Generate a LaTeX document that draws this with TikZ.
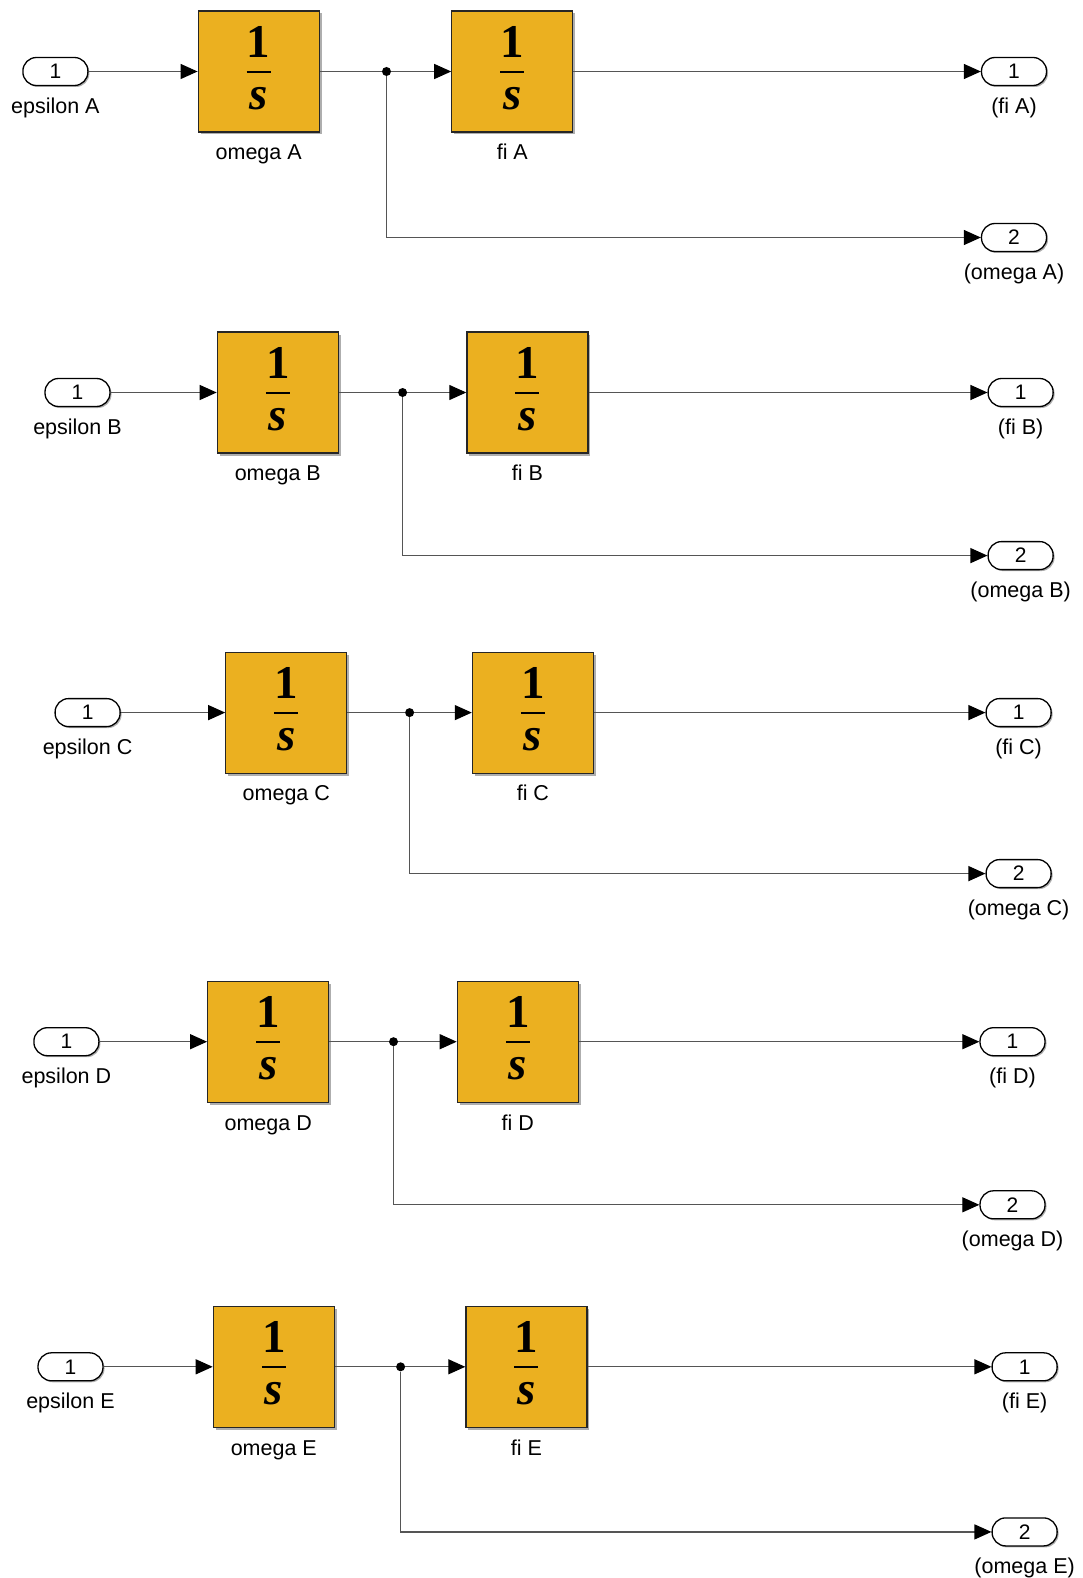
\documentclass[tikz,border=0pt]{standalone}
\usepackage{fontspec}
\setmainfont{Liberation Sans}
\newfontfamily\fracserif{Liberation Serif}
\usetikzlibrary{arrows.meta,shadows}

\definecolor{blockfill}{RGB}{235,176,32}
\definecolor{wiregray}{RGB}{85,85,85}

\newcommand{\fracfont}{\fracserif\fontsize{47}{47}\selectfont}
\newcommand{\intfrac}{{\fracfont\vbox{\offinterlineskip\halign{\hfil##\hfil\cr
  \textbf{1}\cr\noalign{\vskip 13pt}
  \rule{24pt}{2.4pt}\cr\noalign{\vskip 14pt}
  \textbf{\itshape s}\cr\noalign{\vskip 7pt}}}}}

\tikzset{
  intblock/.style={draw=black!85, line width=1.2pt, fill=blockfill,
    minimum width=121pt, minimum height=121pt, inner sep=0pt,
    drop shadow={shadow xshift=2.5pt, shadow yshift=-2.5pt, fill=black!45, opacity=.7}},
  port/.style={draw=black, line width=1.3pt, fill=white, rounded corners=13.5pt,
    minimum width=65pt, minimum height=28pt, inner sep=0pt,
    font=\fontsize{21}{24}\selectfont,
    drop shadow={shadow xshift=1.5pt, shadow yshift=-1.5pt, fill=black!45, opacity=.7}},
  lbl/.style={font=\fontsize{21.5}{24}\selectfont, text height=15.5pt, text depth=5pt,
    inner sep=0pt, yshift=-11.5pt},
  wire/.style={draw=wiregray, line width=1.2pt},
  sig/.style={wire, -{Triangle[length=17pt,width=15pt,color=black]}},
  junction/.style={circle, fill=black, inner sep=0pt, minimum size=9pt},
}

\begin{document}
\begin{tikzpicture}[x=1pt,y=1pt]
	\useasboundingbox (0,0) rectangle (1083,-1578);

	% A
	\node[port, label={[lbl]below:epsilon A}] (inA) at (55.4,-71.5) {1};
	\node[intblock, label={[lbl]below:omega A}] (omegaA) at (258.7,-71.5) {\intfrac};
	\node[junction] (jA) at (386.5,-71.5) {};
	\node[intblock, label={[lbl]below:fi A}] (fiA) at (512.3,-71.5) {\intfrac};
	\node[port, label={[lbl]below:(fi A)}] (outfiA) at (1014,-71.5) {1};
	\node[port, label={[lbl]below:(omega A)}] (outomegaA) at (1014,-237.5) {2};
	\draw[sig] (inA) -- (omegaA);
	\draw[wire] (omegaA) -- (jA);
	\draw[sig] (jA) -- (fiA);
	\draw[sig] (fiA) -- (outfiA);
	\draw[sig] (jA) |- (outomegaA);

	% B
	\node[port, label={[lbl]below:epsilon B}] (inB) at (77.5,-392.5) {1};
	\node[intblock, label={[lbl]below:omega B}] (omegaB) at (277.8,-392.5) {\intfrac};
	\node[junction] (jB) at (402.6,-392.5) {};
	\node[intblock, label={[lbl]below:fi B}] (fiB) at (527.4,-392.5) {\intfrac};
	\node[port, label={[lbl]below:(fi B)}] (outfiB) at (1020.6,-392.5) {1};
	\node[port, label={[lbl]below:(omega B)}] (outomegaB) at (1020.6,-555.6) {2};
	\draw[sig] (inB) -- (omegaB);
	\draw[wire] (omegaB) -- (jB);
	\draw[sig] (jB) -- (fiB);
	\draw[sig] (fiB) -- (outfiB);
	\draw[sig] (jB) |- (outomegaB);

	% C
	\node[port, label={[lbl]below:epsilon C}] (inC) at (87.6,-712.6) {1};
	\node[intblock, label={[lbl]below:omega C}] (omegaC) at (286.3,-712.6) {\intfrac};
	\node[junction] (jC) at (409.6,-712.6) {};
	\node[intblock, label={[lbl]below:fi C}] (fiC) at (532.9,-712.6) {\intfrac};
	\node[port, label={[lbl]below:(fi C)}] (outfiC) at (1018.6,-712.6) {1};
	\node[port, label={[lbl]below:(omega C)}] (outomegaC) at (1018.6,-873.6) {2};
	\draw[sig] (inC) -- (omegaC);
	\draw[wire] (omegaC) -- (jC);
	\draw[sig] (jC) -- (fiC);
	\draw[sig] (fiC) -- (outfiC);
	\draw[sig] (jC) |- (outomegaC);

	% D
	\node[port, label={[lbl]below:epsilon D}] (inD) at (66.4,-1041.7) {1};
	\node[intblock, label={[lbl]below:omega D}] (omegaD) at (268.2,-1041.7) {\intfrac};
	\node[junction] (jD) at (393.5,-1041.7) {};
	\node[intblock, label={[lbl]below:fi D}] (fiD) at (517.8,-1041.7) {\intfrac};
	\node[port, label={[lbl]below:(fi D)}] (outfiD) at (1012.5,-1041.7) {1};
	\node[port, label={[lbl]below:(omega D)}] (outomegaD) at (1012.5,-1204.8) {2};
	\draw[sig] (inD) -- (omegaD);
	\draw[wire] (omegaD) -- (jD);
	\draw[sig] (jD) -- (fiD);
	\draw[sig] (fiD) -- (outfiD);
	\draw[sig] (jD) |- (outomegaD);

	% E
	\node[port, label={[lbl]below:epsilon E}] (inE) at (70.5,-1366.8) {1};
	\node[intblock, label={[lbl]below:omega E}] (omegaE) at (273.8,-1366.8) {\intfrac};
	\node[junction] (jE) at (400.6,-1366.8) {};
	\node[intblock, label={[lbl]below:fi E}] (fiE) at (526.4,-1366.8) {\intfrac};
	\node[port, label={[lbl]below:(fi E)}] (outfiE) at (1024.6,-1366.8) {1};
	\node[port, label={[lbl]below:(omega E)}] (outomegaE) at (1024.6,-1531.9) {2};
	\draw[sig] (inE) -- (omegaE);
	\draw[wire] (omegaE) -- (jE);
	\draw[sig] (jE) -- (fiE);
	\draw[sig] (fiE) -- (outfiE);
	\draw[sig] (jE) |- (outomegaE);
\end{tikzpicture}
\end{document}
